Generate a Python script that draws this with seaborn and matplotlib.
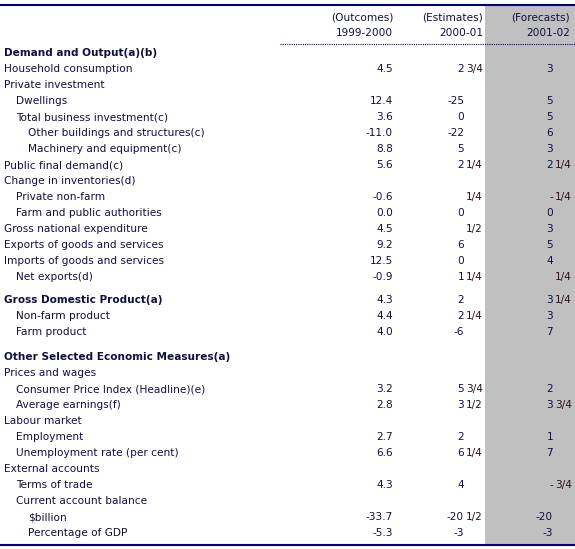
import matplotlib
matplotlib.use("Agg")
import matplotlib.pyplot as plt
import seaborn as sns

sns.set_theme(style="white")
plt.rcParams['font.family'] = ['DejaVu Sans']

labels = ["Demand and Output(a)(b)", "Household consumption", "Private investment", "Dwellings",
          "Total business investment(c)", "Other buildings and structures(c)", "Machinery and equipment(c)",
          "Public final demand(c)", "Change in inventories(d)", "Private non-farm", "Farm and public authorities",
          "Gross national expenditure", "Exports of goods and services", "Imports of goods and services",
          "Net exports(d)", "Gross Domestic Product(a)", "Non-farm product", "Farm product",
          "Other Selected Economic Measures(a)", "Prices and wages", "Consumer Price Index (Headline)(e)",
          "Average earnings(f)", "Labour market", "Employment", "Unemployment rate (per cent)",
          "External accounts", "Terms of trade", "Current account balance", "$billion", "Percentage of GDP"]
indent = [0, 0, 0, 1, 1, 2, 2, 0, 0, 1, 1, 0, 0, 0, 1, 0, 1, 1, 0, 0, 1, 1, 0, 1, 1, 0, 1, 1, 2, 2]
bold = [1, 0, 0, 0, 0, 0, 0, 0, 0, 0, 0, 0, 0, 0, 0, 1, 0, 0, 1, 0, 0, 0, 0, 0, 0, 0, 0, 0, 0, 0]
row_y = [53, 69, 85, 101, 117, 133, 149, 165, 181, 197, 213, 229, 245, 261, 277, 300, 316, 332,
         357, 373, 389, 405, 421, 437, 453, 469, 485, 501, 517, 533]
outcomes = ["", "4.5", "", "12.4", "3.6", "-11.0", "8.8", "5.6", "", "-0.6", "0.0", "4.5", "9.2", "12.5",
            "-0.9", "4.3", "4.4", "4.0", "", "", "3.2", "2.8", "", "2.7", "6.6", "", "4.3", "", "-33.7", "-5.3"]
estimates = ["", "2 3/4", "", "-25", "0", "-22", "5", "2 1/4", "", "1/4", "0", "1/2", "6", "0",
             "1 1/4", "2", "2 1/4", "-6", "", "", "5 3/4", "3 1/2", "", "2", "6 1/4", "", "4", "", "-20 1/2", "-3"]
forecasts = ["", "3", "", "5", "5", "6", "3", "2 1/4", "", "- 1/4", "0", "3", "5", "4",
             "1/4", "3 1/4", "3", "7", "", "", "2", "3 3/4", "", "1", "7", "", "- 3/4", "", "-20", "-3"]
headers = [("(Outcomes)", "1999-2000"), ("(Estimates)", "2000-01"), ("(Forecasts)", "2001-02")]

fig = plt.figure(figsize=(5.75, 5.49), dpi=100)
ax = fig.add_axes([0, 0, 1, 1])
ax.set_xlim(0, 575)
ax.set_ylim(549, 0)
ax.axis("off")

col = "#101040"
fs = 7.6
ax.axvspan(485, 575, ymin=(549 - 545) / 549, ymax=(549 - 5) / 549, color="#c0c0c0", lw=0)
ax.plot([0, 575], [5, 5], color="#000080", lw=1.5)
ax.plot([0, 575], [545, 545], color="#000080", lw=1.5)
ax.plot([280, 575], [44, 44], color="#000080", lw=0.8, ls=(0, (1, 1)))

hx = [393, 483, 570]
for (h1, h2), x in zip(headers, hx):
    ax.text(x, 17, h1, ha="right", va="center", fontsize=fs, color=col)
    ax.text(x, 33, h2, ha="right", va="center", fontsize=fs, color=col)

for lab, ind, b, y in zip(labels, indent, bold, row_y):
    ax.text(4 + 12 * ind, y, lab, ha="left", va="center", fontsize=fs, color=col,
            fontweight="bold" if b else "normal")

def put(val, y, xint, xfrac):
    if not val:
        return
    parts = val.split(" ")
    intpart = " ".join(p for p in parts if "/" not in p)
    frac = [p for p in parts if "/" in p]
    if intpart:
        ax.text(xint, y, intpart, ha="right", va="center", fontsize=fs, color=col)
    if frac:
        ax.text(xfrac, y, frac[0], ha="left", va="center", fontsize=fs, color="#301020")

for o, e, f, y in zip(outcomes, estimates, forecasts, row_y):
    put(o, y, 393, 393)
    put(e, y, 464, 466)
    put(f, y, 553, 555)

fig.savefig("out.png", dpi=100)
